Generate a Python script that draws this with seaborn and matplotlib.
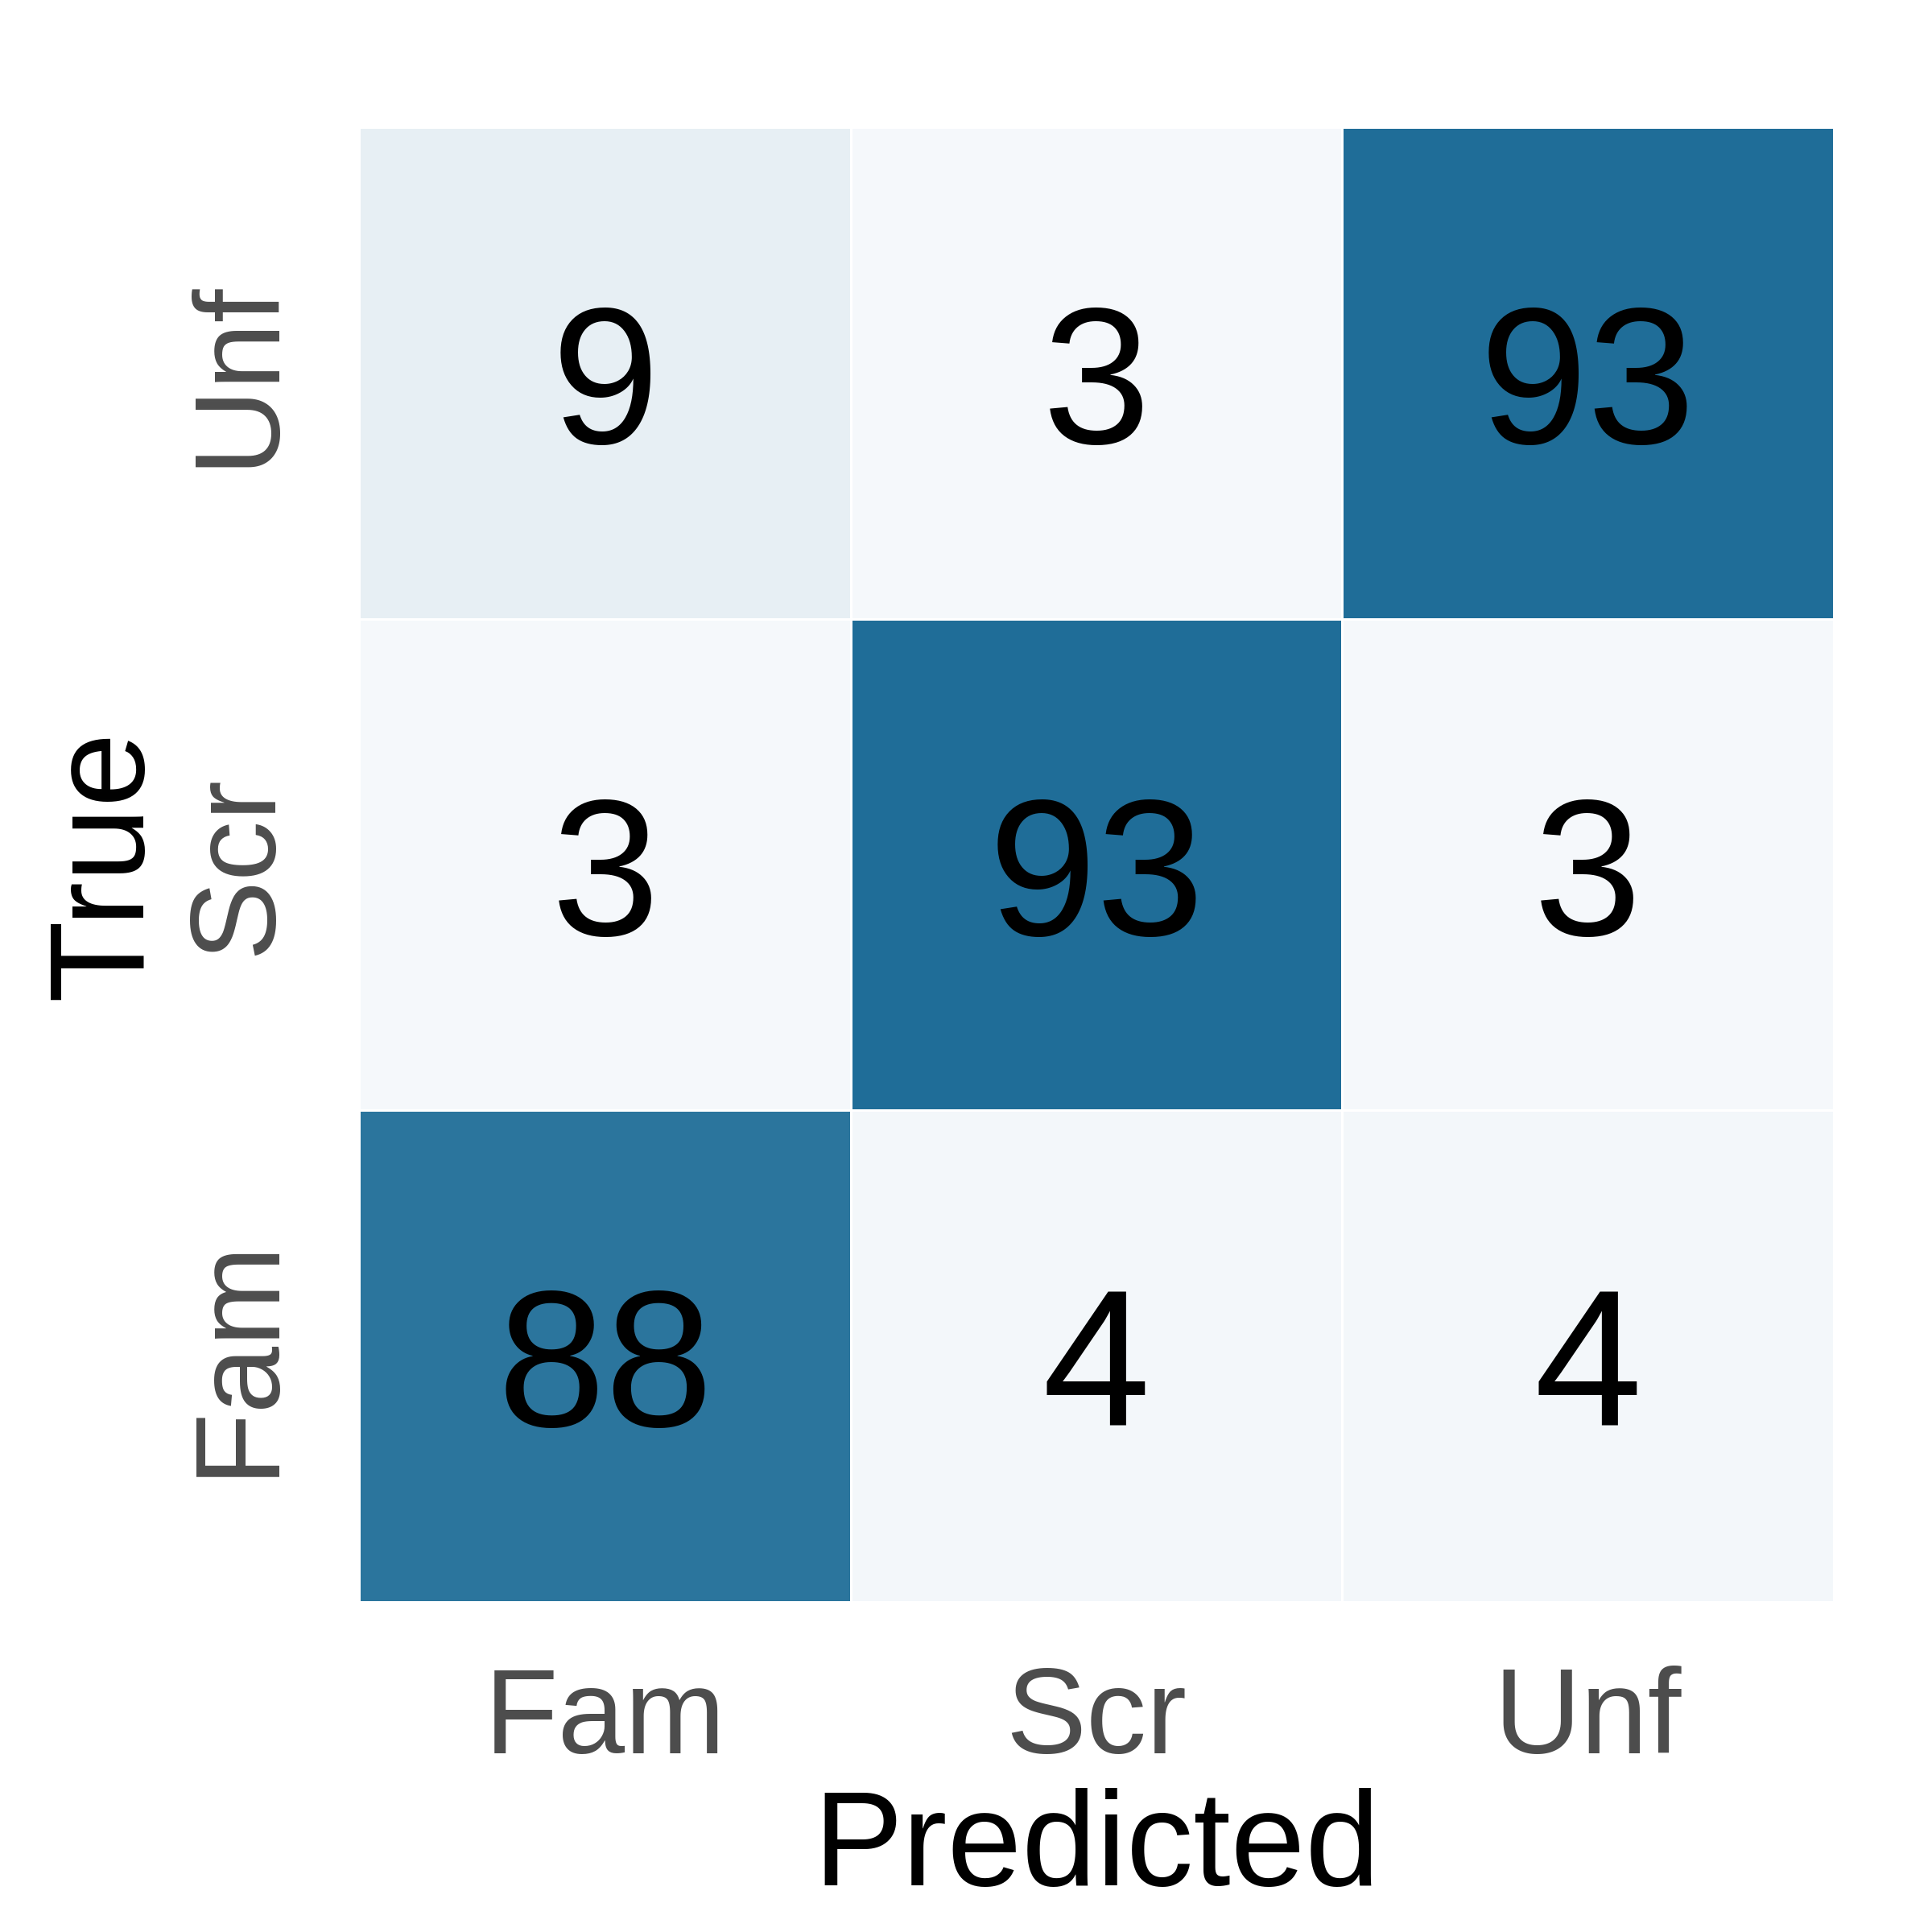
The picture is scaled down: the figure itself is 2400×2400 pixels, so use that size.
import numpy as np
import pandas as pd
import matplotlib
matplotlib.use("Agg")
import matplotlib.pyplot as plt
import seaborn as sns

# confusion matrix values (rows = true, cols = predicted)
labels = ["Fam", "Scr", "Unf"]
row_fam = [88, 4, 4]
row_scr = [3, 93, 3]
row_unf = [9, 3, 93]

cm = pd.DataFrame([row_fam, row_scr, row_unf], index=labels, columns=labels)

sns.set_style("white")
plt.rcParams['font.family'] = ['Liberation Sans', 'DejaVu Sans']

# light-to-blue colormap
cmap = sns.blend_palette(["#f5f8fb", "#1f6d98"], as_cmap=True)

fig = plt.figure(figsize=(8, 8), dpi=300)
ax = fig.add_axes([0.186, 0.171, 0.763, 0.763])
sns.heatmap(cm, annot=True, fmt="d", cmap=cmap, cbar=False, square=True,
            linewidths=0.6, linecolor="white",
            annot_kws={"size": 58, "color": "black", "va": "center_baseline"}, ax=ax)
ax.invert_yaxis()

ax.set_xlabel("Predicted", fontsize=40, color="black", labelpad=3)
ax.set_ylabel("True", fontsize=40, color="black", labelpad=4)
ax.tick_params(axis="both", length=0, pad=19, labelsize=36, labelcolor="#4d4d4d")
plt.setp(ax.get_yticklabels(), rotation=90, va="center")
plt.setp(ax.get_xticklabels(), rotation=0)

fig.savefig("out.png", dpi=300)
